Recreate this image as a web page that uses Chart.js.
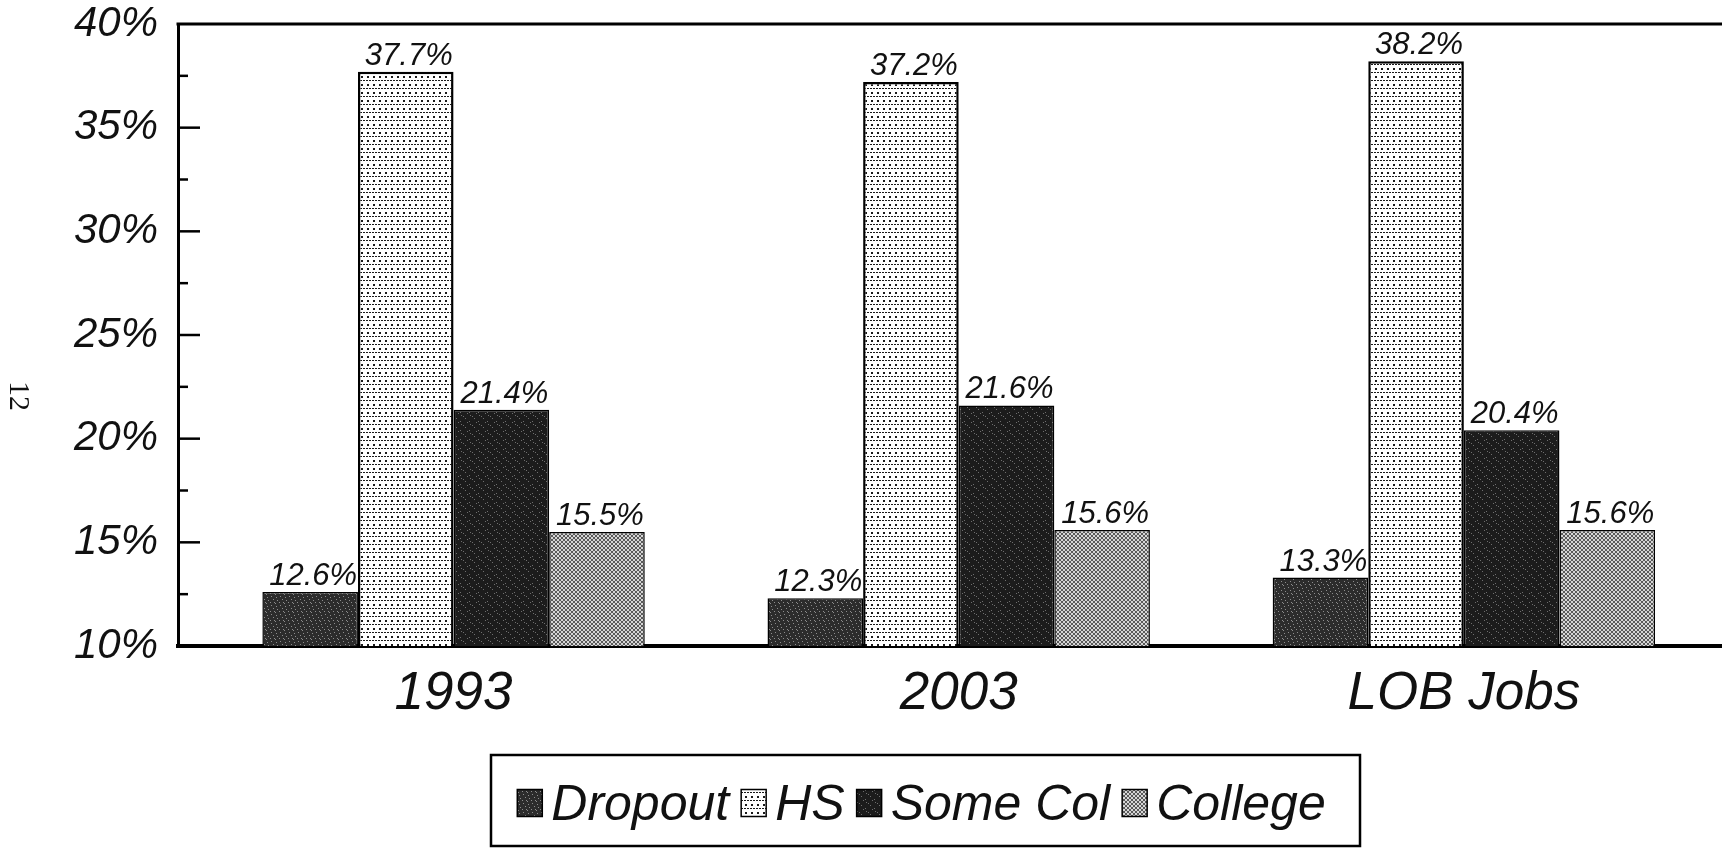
<!DOCTYPE html>
<html>
<head>
<meta charset="utf-8">
<script src="https://cdn.jsdelivr.net/npm/chart.js@4/dist/chart.umd.min.js"></script>
<style>
  html, body { margin: 0; padding: 0; background: #fff; }
  #wrap { width: 1722px; height: 850px; position: relative; }
</style>
</head>
<body>
<div id="wrap"><canvas id="c" width="1722" height="850"></canvas></div>
<script>
// Education mix of workers by group (percent of total)
const categories = ['1993', '2003', 'LOB Jobs'];
const seriesNames = ['Dropout', 'HS', 'Some Col', 'College'];
const dropout = [12.6, 12.3, 13.3];
const hs = [37.7, 37.2, 38.2];
const someCol = [21.4, 21.6, 20.4];
const college = [15.5, 15.6, 15.6];
const yMin = 10, yMax = 40, yMinorStep = 2.5, yMajorStep = 5;
const pageNumber = '12';

const canvas = document.getElementById('c');
const ctx = canvas.getContext('2d');

// Small repeating tiles that give each series its printed texture
function tile(w, h, bg, paint) {
  const c = document.createElement('canvas');
  c.width = w; c.height = h;
  const g = c.getContext('2d');
  g.fillStyle = bg; g.fillRect(0, 0, w, h);
  paint(g);
  return ctx.createPattern(c, 'repeat');
}
const dropoutFill = tile(9, 9, '#2c2c2c', g => {
  g.fillStyle = '#8c8c8c';
  [[1, 2], [5, 0], [7, 6], [3, 5], [0, 8], [6, 3], [4, 8]].forEach(([x, y]) => g.fillRect(x, y, 1, 1));
});
const hsFill = tile(12, 8, '#ffffff', g => {
  g.fillStyle = '#1a1a1a';
  [0, 3, 6, 9].forEach(x => g.fillRect(x, 0, 2, 1));
  [1, 7].forEach(x => g.fillRect(x, 4, 2, 2));
});
const someColFill = tile(9, 9, '#1c1c1c', g => {
  g.fillStyle = '#6e6e6e';
  [[2, 1], [6, 4], [1, 7], [8, 8], [4, 2]].forEach(([x, y]) => g.fillRect(x, y, 1, 1));
});
const collegeFill = tile(4, 4, '#d6d6d6', g => {
  g.fillStyle = '#5a5a5a';
  for (let i = 0; i < 4; i++) { g.fillRect(i, i, 1, 1); g.fillRect(3 - i, i, 1, 1); }
});
const fills = [dropoutFill, hsFill, someColFill, collegeFill];
const seriesValues = [dropout, hs, someCol, college];

const italic = (size) => ({ family: '"Liberation Sans", Arial, sans-serif', style: 'italic', size });
const ink = '#111';

// Frame top edge, inward y ticks, bar value labels, legend box and page number
const decorations = {
  id: 'decorations',
  afterDraw(chart) {
    const g = chart.ctx;
    const a = chart.chartArea;
    const y = chart.scales.y;
    g.save();
    g.strokeStyle = '#000';
    g.lineWidth = 3;
    g.beginPath(); g.moveTo(a.left - 1.5, a.top); g.lineTo(a.right, a.top); g.stroke();

    g.lineWidth = 2.5;
    y.ticks.forEach(t => {
      if (t.value <= yMin || t.value >= yMax) return;
      const py = y.getPixelForValue(t.value);
      const len = (t.value % yMajorStep === 0) ? 22 : 10;
      g.beginPath(); g.moveTo(a.left, py); g.lineTo(a.left + len, py); g.stroke();
    });

    g.fillStyle = ink;
    g.font = 'italic 31px "Liberation Sans", Arial, sans-serif';
    g.textAlign = 'center';
    g.textBaseline = 'alphabetic';
    chart.data.datasets.forEach((ds, di) => {
      chart.getDatasetMeta(di).data.forEach((bar, i) => {
        g.fillText(ds.data[i].y.toFixed(1) + '%', bar.x + 3, bar.y - 7);
      });
    });

    // legend
    const box = { x: 491, y: 755, w: 869, h: 91 };
    g.lineWidth = 2.5;
    g.strokeRect(box.x, box.y, box.w, box.h);
    g.font = 'italic 50px "Liberation Sans", Arial, sans-serif';
    g.textAlign = 'left';
    g.textBaseline = 'middle';
    const sw = 25, gapText = 9, gapItem = 12;
    const widths = chart.data.datasets.map(ds => g.measureText(ds.label).width);
    const total = widths.reduce((s, w) => s + sw + gapText + w, 0) + gapItem * (widths.length - 1);
    let lx = box.x + (box.w - total) / 2 - 4;
    const cy = 804;
    chart.data.datasets.forEach((ds, di) => {
      g.fillStyle = ds.backgroundColor;
      g.fillRect(lx, cy - sw / 2 - 2, sw, sw + 2);
      g.lineWidth = 1.5;
      g.strokeStyle = '#000';
      g.strokeRect(lx, cy - sw / 2 - 2, sw, sw + 2);
      g.fillStyle = ink;
      g.fillText(ds.label, lx + sw + gapText, cy + 2);
      lx += sw + gapText + widths[di] + gapItem;
    });

    // page number printed sideways in the margin
    g.translate(18, 396);
    g.rotate(Math.PI / 2);
    g.font = '30px "Liberation Serif", "Times New Roman", serif';
    g.textAlign = 'center';
    g.textBaseline = 'middle';
    g.fillText(pageNumber, 0, 0);
    g.restore();
  }
};

new Chart(ctx, {
  type: 'bar',
  data: {
    datasets: seriesNames.map((name, si) => ({
      label: name,
      data: seriesValues[si].map((v, i) => ({ x: i, y: v })),
      backgroundColor: fills[si],
      borderColor: '#000',
      borderWidth: si === 1 ? 2.5 : 1.5,
      categoryPercentage: 0.757,
      barPercentage: 1.0
    }))
  },
  options: {
    responsive: false,
    animation: false,
    events: [],
    layout: { padding: { top: 24, right: 0, bottom: 0, left: 0 } },
    plugins: { legend: { display: false }, tooltip: { enabled: false } },
    scales: {
      x: {
        type: 'linear',
        offset: false,
        min: -0.5455,
        max: 2.511,
        afterBuildTicks: s => { s.ticks = categories.map((_, i) => ({ value: i })); },
        afterFit: s => { s.height = 204; s.paddingLeft = 0; s.paddingRight = 0; },
        grid: { display: false, drawTicks: false },
        border: { display: true, color: '#000', width: 4 },
        ticks: {
          callback: v => categories[v] ?? '',
          font: italic(53),
          color: ink,
          padding: 16,
          autoSkip: false,
          maxRotation: 0
        }
      },
      y: {
        min: yMin,
        max: yMax,
        afterBuildTicks: s => {
          const t = [];
          for (let v = yMin; v <= yMax + 1e-9; v += yMinorStep) t.push({ value: v });
          s.ticks = t;
        },
        afterFit: s => { s.width = 178; s.paddingTop = 0; s.paddingBottom = 0; },
        grid: { display: false, drawTicks: false },
        border: { display: true, color: '#000', width: 3 },
        ticks: {
          callback: v => (v % yMajorStep === 0 ? v + '%' : ''),
          font: italic(42),
          color: ink,
          padding: 20,
          autoSkip: false
        }
      }
    }
  },
  plugins: [decorations]
});
</script>
</body>
</html>
